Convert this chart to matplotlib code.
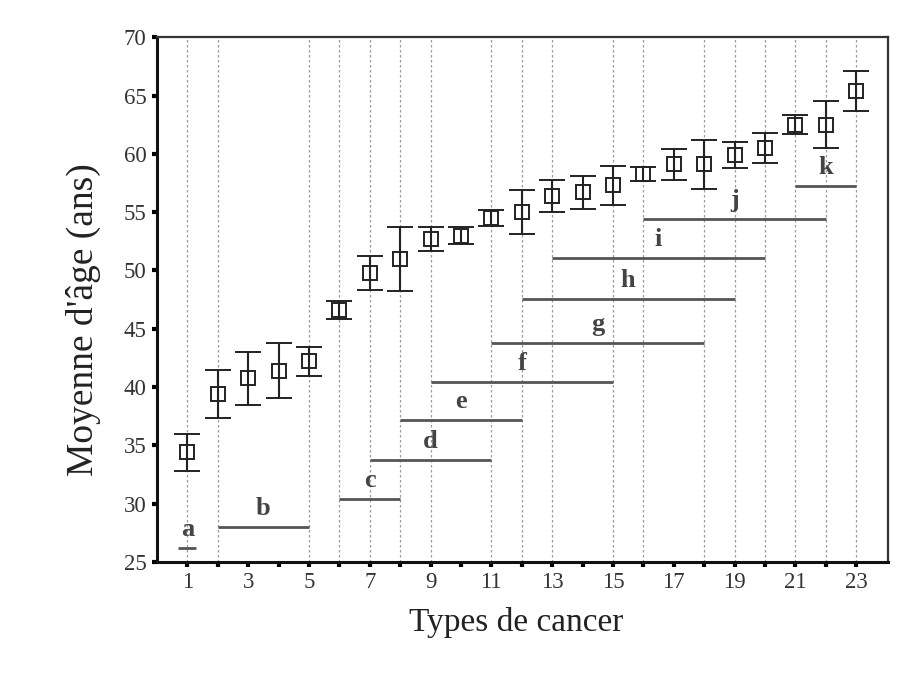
import matplotlib
matplotlib.use("Agg")
import matplotlib.pyplot as plt
import numpy as np

# --- data ---
cancer_types = list(range(1, 24))
mean_age = [34.4, 39.4, 40.75, 41.4, 42.2, 46.6, 49.8, 51.0, 52.7, 53.0, 54.5, 55.0,
            56.4, 56.7, 57.3, 58.3, 59.1, 59.1, 59.9, 60.5, 62.5, 62.5, 65.4]
err_age = [1.6, 2.05, 2.3, 2.35, 1.25, 0.8, 1.45, 2.75, 1.05, 0.75, 0.7, 1.9,
           1.4, 1.4, 1.7, 0.6, 1.35, 2.07, 1.15, 1.3, 0.8, 2.0, 1.75]
group_labels = ['a', 'b', 'c', 'd', 'e', 'f', 'g', 'h', 'i', 'j', 'k']
group_start = [1, 2, 6, 7, 8, 9, 11, 12, 13, 16, 21]
group_end = [1, 5, 8, 11, 12, 15, 18, 19, 20, 22, 23]
group_level = [26.2, 28.0, 30.4, 33.75, 37.2, 40.4, 43.8, 47.55, 51.1, 54.4, 57.25]
x_tick_labels = ['1', '3', '5', '7', '9', '11', '13', '15', '17', '19', '21', '23']
y_ticks = [25, 30, 35, 40, 45, 50, 55, 60, 65, 70]

plt.rcParams['font.family'] = ['Liberation Serif', 'DejaVu Serif']

fig = plt.figure(figsize=(9.19, 6.82), dpi=100)
ax = fig.add_axes([0.1708, 0.176, 0.7955, 0.7693])

# vertical dotted grid lines at group boundaries
grid_x = sorted(set(group_start) | set(group_end))
for gx in grid_x:
    ax.axvline(gx, color='#9a9a9a', linestyle=(0, (2, 2)), linewidth=0.9, zorder=1)

# group bars
for lab, s, e, lev in zip(group_labels, group_start, group_end, group_level):
    if s == e:
        x0, x1 = s - 0.3, e + 0.3
    else:
        x0, x1 = s, e
    ax.plot([x0, x1], [lev, lev], color='#555555', linewidth=2.0, solid_capstyle='butt', zorder=2)
    ax.text((x0 + x1) / 2, lev + 0.6, lab, ha='center', va='bottom', fontsize=19,
            fontweight='bold', color='#444444', zorder=3)

# means with error bars
ax.errorbar(cancer_types, mean_age, yerr=err_age, fmt='s', color='#222222',
            markerfacecolor='none', markeredgecolor='#222222', markersize=9.5,
            markeredgewidth=1.4, elinewidth=1.5, capsize=9.2, capthick=1.5, zorder=4)

ax.set_xlim(0, 24.05)
ax.set_ylim(25, 70)
ax.set_xticks(cancer_types)
ax.set_xticklabels([str(t) if str(t) in x_tick_labels else '' for t in cancer_types])
ax.set_yticks(y_ticks)
ax.tick_params(axis='both', direction='out', length=3.5, width=3, color='black',
               labelsize=16.5, labelcolor='#333333', pad=4)

for side in ['left', 'bottom']:
    ax.spines[side].set_linewidth(2.2)
    ax.spines[side].set_color('#111111')
for side in ['top', 'right']:
    ax.spines[side].set_linewidth(1.6)
    ax.spines[side].set_color('#333333')

ax.set_xlabel('Types de cancer', fontsize=24, color='#222222')
ax.set_ylabel("Moyenne d'âge (ans)", fontsize=27, color='#222222')
ax.xaxis.set_label_coords(0.491, -0.085)
ax.yaxis.set_label_coords(-0.076, 0.461)

fig.savefig('out.png', dpi=100)
